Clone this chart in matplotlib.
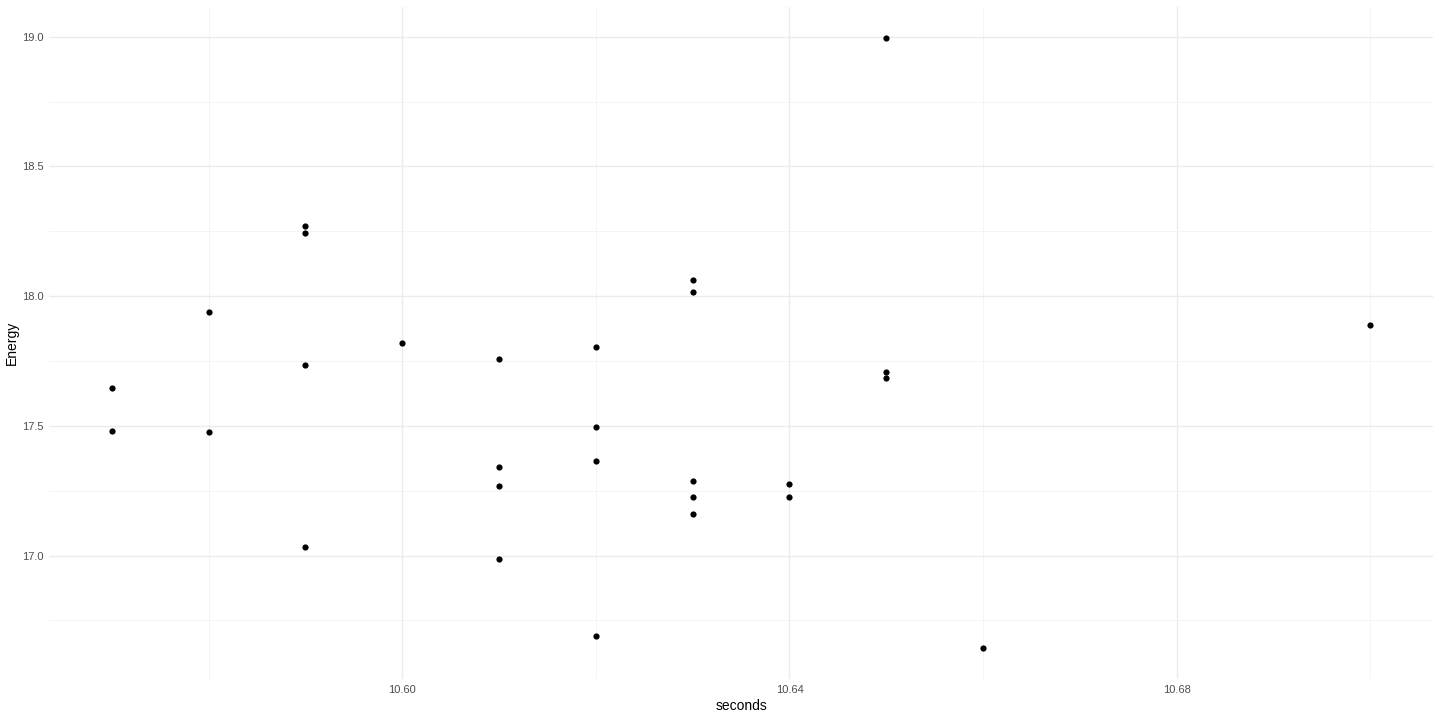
import numpy as np
import matplotlib
matplotlib.use("Agg")
import matplotlib.pyplot as plt
from matplotlib.ticker import MultipleLocator, FormatStrFormatter

plt.rcParams['font.family'] = ['Liberation Sans', 'DejaVu Sans']

# values
seconds = [10.57, 10.57, 10.58, 10.58, 10.59, 10.59, 10.59, 10.59, 10.60,
           10.61, 10.61, 10.61, 10.61, 10.62, 10.62, 10.62, 10.62,
           10.63, 10.63, 10.63, 10.63, 10.63, 10.64, 10.64,
           10.65, 10.65, 10.65, 10.66, 10.70]
energy = [17.647, 17.482, 17.940, 17.478, 18.272, 18.245, 17.736, 17.035, 17.821,
          17.759, 17.343, 17.270, 16.985, 17.805, 17.497, 17.366, 16.692,
          18.064, 18.017, 17.289, 17.227, 17.162, 17.277, 17.227,
          18.996, 17.709, 17.686, 16.642, 17.890]

fig = plt.figure(figsize=(14.39, 7.19), dpi=100)
ax = fig.add_axes([0.034, 0.0556, 0.962, 0.9344])

ax.scatter(seconds, energy, s=20, color="black", zorder=3, linewidths=0)

xr = max(seconds) - min(seconds)
yr = max(energy) - min(energy)
ax.set_xlim(min(seconds) - 0.05 * xr, max(seconds) + 0.05 * xr)
ax.set_ylim(min(energy) - 0.05 * yr, max(energy) + 0.05 * yr)

ax.xaxis.set_major_locator(MultipleLocator(0.04))
ax.xaxis.set_minor_locator(MultipleLocator(0.02))
ax.yaxis.set_major_locator(MultipleLocator(0.5))
ax.yaxis.set_minor_locator(MultipleLocator(0.25))
ax.xaxis.set_major_formatter(FormatStrFormatter("%.2f"))
ax.yaxis.set_major_formatter(FormatStrFormatter("%.1f"))

ax.grid(which="major", color="#EBEBEB", linewidth=1.0)
ax.grid(which="minor", color="#F3F3F3", linewidth=0.6)
ax.set_axisbelow(True)
for s in ax.spines.values():
    s.set_visible(False)
ax.tick_params(which="both", length=0, labelsize=8, labelcolor="#4D4D4D", pad=4)

ax.set_xlabel("seconds", fontsize=10, labelpad=3)
ax.set_ylabel("Energy", fontsize=10)
ax.yaxis.set_label_coords(-0.022, 0.5)

fig.savefig("out.png", dpi=100)
